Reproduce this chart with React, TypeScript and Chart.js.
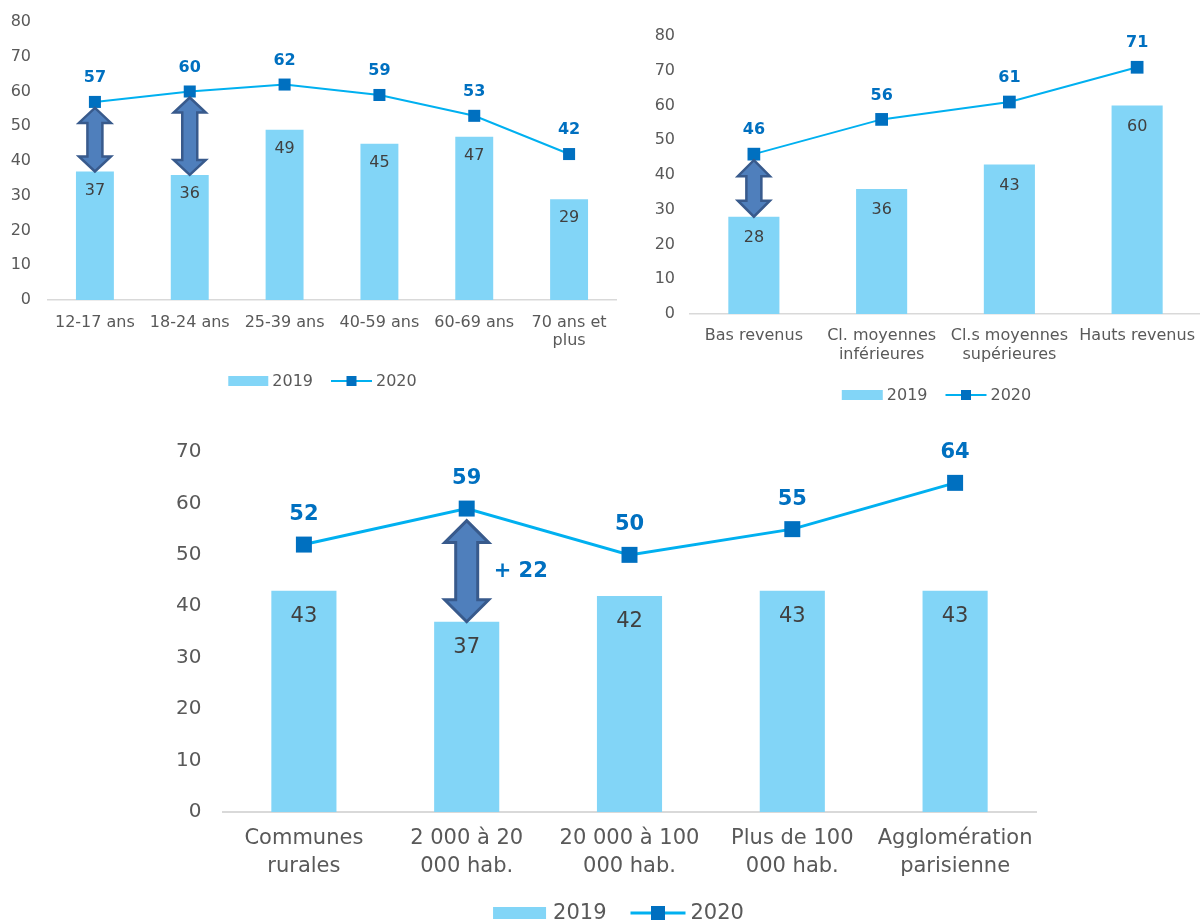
import React, { useEffect, useRef } from "react";
import { Chart, registerables } from "chart.js";

Chart.register(...registerables);

const FONT_FAMILY = "'DejaVu Sans', Verdana, sans-serif";
const BAR_COLOR = "#82D5F7";
const LINE_COLOR = "#00B0F0";
const MARKER_COLOR = "#0070C0";
const LABEL_2020_COLOR = "#0070C0";
const LABEL_2019_COLOR = "#404040";
const AXIS_TEXT = "#595959";
const AXIS_LINE = "#D9D9D9";
const ARROW_FILL = "#4F7FBC";
const ARROW_STROKE = "#385A8C";

const seriesNames = ["2019", "2020"];

// Panel 1: age
const ageCategories: (string | string[])[] = ["12-17 ans", "18-24 ans", "25-39 ans", "40-59 ans", "60-69 ans", ["70 ans et", "plus"]];
const age2019 = [37, 36, 49, 45, 47, 29];
const age2020 = [57, 60, 62, 59, 53, 42];
const ageArrows = [0, 1];

// Panel 2: income
const incomeCategories: (string | string[])[] = ["Bas revenus", ["Cl. moyennes", "inférieures"], ["Cl.s moyennes", "supérieures"], "Hauts revenus"];
const income2019 = [28, 36, 43, 60];
const income2020 = [46, 56, 61, 71];
const incomeArrows = [0];

// Panel 3: town size
const townCategories: (string | string[])[] = [["Communes", "rurales"], ["2 000 à 20", "000 hab."], ["20 000 à 100", "000 hab."], ["Plus de 100", "000 hab."], ["Agglomération", "parisienne"]];
const town2019 = [43, 37, 42, 43, 43];
const town2020 = [52, 59, 50, 55, 64];
const townArrows = [1];

const yMaxAge = 80;
const yMaxIncome = 80;
const yMaxTown = 70;
const yStep = 10;

type Cfg = {
  x: number; y: number; w: number; h: number;
  categories: (string | string[])[]; v2019: number[]; v2020: number[]; arrows: number[]; showDiff: boolean;
  yMax: number;
  areaLeft: number; areaTop: number; areaBottom: number; padRight: number;
  yPad: number; yFont: number; catFont: number; catLH: number; catPad: number;
  axisW: number; lineW: number; pointR: number;
  barFont: number; barDy: number; lineFont: number; lineDy: number;
  arrow: { headW: number; headH: number; shaftW: number; gap: number; stroke: number; labelDx: number; labelFont: number };
  legend: { cx: number; cy: number; swW: number; swH: number; gap1: number; itemGap: number; lineLen: number; gap2: number; marker: number; lineW: number; font: number };
};

const panels: Cfg[] = [
  {
    x: 0, y: 0, w: 625, h: 410,
    categories: ageCategories, v2019: age2019, v2020: age2020, arrows: ageArrows, showDiff: false,
    yMax: yMaxAge,
    areaLeft: 47.5, areaTop: 22, areaBottom: 300, padRight: 7.5,
    yPad: 16.5, yFont: 16, catFont: 16, catLH: 1.13, catPad: 14,
    axisW: 1.5, lineW: 2, pointR: 8.5,
    barFont: 16, barDy: 19, lineFont: 16, lineDy: 24,
    arrow: { headW: 32, headH: 15, shaftW: 15, gap: 6, stroke: 2.5, labelDx: 0, labelFont: 16 },
    legend: { cx: 322.5, cy: 381, swW: 40, swH: 10, gap1: 4, itemGap: 18, lineLen: 41, gap2: 4, marker: 10, lineW: 2, font: 16 },
  },
  {
    x: 620, y: 0, w: 590, h: 420,
    categories: incomeCategories, v2019: income2019, v2020: income2020, arrows: incomeArrows, showDiff: false,
    yMax: yMaxIncome,
    areaLeft: 70, areaTop: 36, areaBottom: 314, padRight: 8,
    yPad: 15, yFont: 16, catFont: 16, catLH: 1.19, catPad: 12.5,
    axisW: 1.5, lineW: 2, pointR: 9,
    barFont: 16, barDy: 21, lineFont: 16, lineDy: 24,
    arrow: { headW: 32, headH: 16, shaftW: 15, gap: 6, stroke: 2.5, labelDx: 0, labelFont: 16 },
    legend: { cx: 316.5, cy: 395, swW: 41, swH: 10, gap1: 4, itemGap: 18, lineLen: 41, gap2: 4, marker: 10, lineW: 2, font: 16 },
  },
  {
    x: 0, y: 420, w: 1200, h: 504,
    categories: townCategories, v2019: town2019, v2020: town2020, arrows: townArrows, showDiff: true,
    yMax: yMaxTown,
    areaLeft: 222.5, areaTop: 32, areaBottom: 392, padRight: 163.5,
    yPad: 21, yFont: 20, catFont: 21, catLH: 1.29, catPad: 13.5,
    axisW: 2, lineW: 3, pointR: 11.3,
    barFont: 21, barDy: 26, lineFont: 21, lineDy: 30,
    arrow: { headW: 44, headH: 22, shaftW: 22, gap: 12, stroke: 3, labelDx: 27, labelFont: 21 },
    legend: { cx: 618.5, cy: 493, swW: 53, swH: 12, gap1: 7, itemGap: 24, lineLen: 55, gap2: 5, marker: 14, lineW: 3, font: 21 },
  },
];

function drawArrow(ctx: CanvasRenderingContext2D, x: number, yT: number, yB: number, a: Cfg["arrow"]) {
  const hw = a.headW / 2;
  const sw = a.shaftW / 2;
  ctx.beginPath();
  ctx.moveTo(x, yT);
  ctx.lineTo(x + hw, yT + a.headH);
  ctx.lineTo(x + sw, yT + a.headH);
  ctx.lineTo(x + sw, yB - a.headH);
  ctx.lineTo(x + hw, yB - a.headH);
  ctx.lineTo(x, yB);
  ctx.lineTo(x - hw, yB - a.headH);
  ctx.lineTo(x - sw, yB - a.headH);
  ctx.lineTo(x - sw, yT + a.headH);
  ctx.lineTo(x - hw, yT + a.headH);
  ctx.closePath();
  ctx.fillStyle = ARROW_FILL;
  ctx.fill();
  ctx.lineJoin = "miter";
  ctx.lineWidth = a.stroke;
  ctx.strokeStyle = ARROW_STROKE;
  ctx.stroke();
}

function valuePlugin(cfg: Cfg) {
  return {
    id: "valueLabels",
    afterDatasetsDraw(chart: any) {
      const ctx: CanvasRenderingContext2D = chart.ctx;
      const xS = chart.scales.x;
      const yS = chart.scales.y;
      ctx.save();
      cfg.arrows.forEach((i) => {
        const x = xS.getPixelForValue(i);
        const yB = yS.getPixelForValue(cfg.v2019[i]);
        const yT = yS.getPixelForValue(cfg.v2020[i]) + cfg.arrow.gap;
        drawArrow(ctx, x, yT, yB, cfg.arrow);
        if (cfg.showDiff) {
          ctx.font = `bold ${cfg.arrow.labelFont}px ${FONT_FAMILY}`;
          ctx.fillStyle = LABEL_2020_COLOR;
          ctx.textAlign = "left";
          ctx.textBaseline = "middle";
          ctx.fillText("+ " + (cfg.v2020[i] - cfg.v2019[i]), x + cfg.arrow.labelDx, (yB + yT) / 2);
        }
      });
      ctx.textAlign = "center";
      ctx.textBaseline = "middle";
      const barMeta = chart.getDatasetMeta(0);
      ctx.font = `${cfg.barFont}px ${FONT_FAMILY}`;
      ctx.fillStyle = LABEL_2019_COLOR;
      barMeta.data.forEach((el: any, i: number) => {
        ctx.fillText(String(cfg.v2019[i]), el.x, el.y + cfg.barDy);
      });
      const lineMeta = chart.getDatasetMeta(1);
      ctx.font = `bold ${cfg.lineFont}px ${FONT_FAMILY}`;
      ctx.fillStyle = LABEL_2020_COLOR;
      lineMeta.data.forEach((el: any, i: number) => {
        ctx.fillText(String(cfg.v2020[i]), el.x, el.y - cfg.lineDy);
      });
      ctx.restore();
    },
  };
}

function legendPlugin(cfg: Cfg) {
  return {
    id: "customLegend",
    afterDraw(chart: any) {
      const ctx: CanvasRenderingContext2D = chart.ctx;
      const L = cfg.legend;
      const ds = chart.data.datasets;
      ctx.save();
      ctx.font = `${L.font}px ${FONT_FAMILY}`;
      ctx.textBaseline = "middle";
      ctx.textAlign = "left";
      const t1 = ds[0].label as string;
      const t2 = ds[1].label as string;
      const w1 = ctx.measureText(t1).width;
      const w2 = ctx.measureText(t2).width;
      const total = L.swW + L.gap1 + w1 + L.itemGap + L.lineLen + L.gap2 + w2;
      let x = L.cx - total / 2;
      const y = L.cy;
      ctx.fillStyle = ds[0].backgroundColor;
      ctx.fillRect(x, y - L.swH / 2, L.swW, L.swH);
      x += L.swW + L.gap1;
      ctx.fillStyle = AXIS_TEXT;
      ctx.fillText(t1, x, y + 1);
      x += w1 + L.itemGap;
      ctx.strokeStyle = ds[1].borderColor;
      ctx.lineWidth = L.lineW;
      ctx.beginPath();
      ctx.moveTo(x, y);
      ctx.lineTo(x + L.lineLen, y);
      ctx.stroke();
      ctx.fillStyle = ds[1].pointBackgroundColor;
      ctx.fillRect(x + L.lineLen / 2 - L.marker / 2, y - L.marker / 2, L.marker, L.marker);
      x += L.lineLen + L.gap2;
      ctx.fillStyle = AXIS_TEXT;
      ctx.fillText(t2, x, y + 1);
      ctx.restore();
    },
  };
}

function makeChart(canvas: HTMLCanvasElement, cfg: Cfg) {
  return new Chart(canvas, {
    type: "bar",
    data: {
      labels: cfg.categories as any,
      datasets: [
        {
          type: "bar",
          label: seriesNames[0],
          data: cfg.v2019,
          backgroundColor: BAR_COLOR,
          barPercentage: 0.4,
          categoryPercentage: 1,
          order: 1,
        } as any,
        {
          type: "line",
          label: seriesNames[1],
          data: cfg.v2020,
          borderColor: LINE_COLOR,
          borderWidth: cfg.lineW,
          pointStyle: "rect",
          pointRadius: cfg.pointR,
          pointHoverRadius: cfg.pointR,
          pointBackgroundColor: MARKER_COLOR,
          pointBorderColor: MARKER_COLOR,
          pointBorderWidth: 0,
          tension: 0,
          order: 0,
          clip: false,
        } as any,
      ],
    },
    options: {
      responsive: false,
      animation: false,
      devicePixelRatio: 1,
      events: [],
      layout: { padding: { left: 0, top: cfg.areaTop, right: cfg.padRight, bottom: 0 } },
      plugins: {
        legend: { display: false },
        tooltip: { enabled: false },
        title: { display: false },
      },
      scales: {
        x: {
          type: "category",
          offset: true,
          grid: { display: false, drawTicks: false },
          border: { display: true, color: AXIS_LINE, width: cfg.axisW },
          ticks: {
            color: AXIS_TEXT,
            font: { family: FONT_FAMILY, size: cfg.catFont, lineHeight: cfg.catLH },
            padding: cfg.catPad,
            maxRotation: 0,
            minRotation: 0,
            autoSkip: false,
          },
          afterFit: (s: any) => {
            s.height = cfg.h - cfg.areaBottom;
            s.paddingLeft = 0;
            s.paddingRight = 0;
          },
        },
        y: {
          min: 0,
          max: cfg.yMax,
          grid: { display: false, drawTicks: false },
          border: { display: false },
          ticks: {
            stepSize: yStep,
            color: AXIS_TEXT,
            font: { family: FONT_FAMILY, size: cfg.yFont },
            padding: cfg.yPad,
          },
          afterFit: (s: any) => {
            s.width = cfg.areaLeft;
            s.paddingTop = 0;
            s.paddingBottom = 0;
          },
        },
      },
    } as any,
    plugins: [valuePlugin(cfg), legendPlugin(cfg)],
  });
}

function Panel({ cfg }: { cfg: Cfg }) {
  const ref = useRef<HTMLCanvasElement>(null);
  useEffect(() => {
    if (!ref.current) return;
    const chart = makeChart(ref.current, cfg);
    return () => chart.destroy();
  }, [cfg]);
  return (
    <canvas
      ref={ref}
      width={cfg.w}
      height={cfg.h}
      style={{ position: "absolute", left: cfg.x, top: cfg.y, width: cfg.w, height: cfg.h }}
    />
  );
}

export default function App() {
  return (
    <div
      style={{
        position: "absolute",
        left: 0,
        top: 0,
        width: 1200,
        height: 924,
        overflow: "hidden",
        background: "#ffffff",
      }}
    >
      {panels.map((p, i) => (
        <Panel key={i} cfg={p} />
      ))}
    </div>
  );
}
